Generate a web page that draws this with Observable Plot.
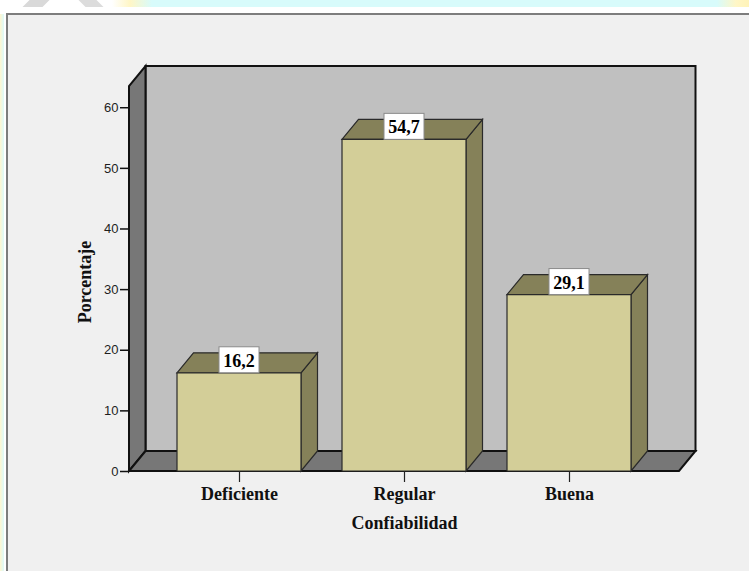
<!DOCTYPE html>
<html>
<head>
<meta charset="utf-8">
<script src="https://cdn.jsdelivr.net/npm/d3@7"></script>
<script src="https://cdn.jsdelivr.net/npm/@observablehq/plot@0.6"></script>
<style>
  html, body { margin: 0; padding: 0; background: #ffffff; }
  #page { position: relative; width: 749px; height: 571px; overflow: hidden; background: #ffffff; }
  #panel {
    position: absolute; left: 6px; top: 13px; width: 760px; height: 580px;
    background: #f0f0f0; border-left: 2px solid #7d7d7d; border-top: 2px solid #7d7d7d;
    box-sizing: border-box;
  }
  .wm { position: absolute; top: 0; height: 7px; }
  #chart { position: absolute; left: 0; top: 0; }
  #chart g[aria-label="y-axis tick label"] { font-size: 13px; font-family: 'Liberation Sans', Arial, sans-serif; }
  #chart g[aria-label="x-axis tick label"] { font-size: 18px; font-family: 'Liberation Serif', 'Times New Roman', serif; font-weight: bold; }
</style>
</head>
<body>
<div id="page">
  <!-- faint banner strip above the framed panel -->
  <div class="wm" style="left:26px;width:20px;background:#d9d9d9;transform:skewX(-45deg);"></div>
  <div class="wm" style="left:82px;width:18px;background:#dcdcdc;transform:skewX(45deg);"></div>
  <div class="wm" style="left:112px;width:40px;background:linear-gradient(90deg,#ffffff,#fff6c6 45%,#d8fbfb);"></div>
  <div class="wm" style="left:152px;width:565px;background:#d8fbfb;"></div>
  <div class="wm" style="left:717px;width:32px;background:linear-gradient(90deg,#d8fbfb,#fff6c6 60%,#fff3b8);"></div>
  <div style="position:absolute;left:0;top:14px;width:4px;height:557px;background:linear-gradient(90deg,#fff6d0,#dcfafa);"></div>
  <div id="panel"></div>
  <div id="chart"></div>
</div>
<script>
// Confiabilidad distribution (percentages)
const categories = ["Deficiente", "Regular", "Buena"];
const percentages = [16.2, 54.7, 29.1];
const yTicks = [0, 10, 20, 30, 40, 50, 60];
const yTop = 63.5;
const xTitle = "Confiabilidad";
const yTitle = "Porcentaje";

const data = categories.map((category, i) => ({category, percent: percentages[i]}));
const formatValue = (v) => v.toFixed(1).replace(".", ",");

// pseudo-3D depth offset (pixels)
const DX = 16.5, DY = -20;
const SERIF = "'Liberation Serif', 'Times New Roman', serif";
const SANS = "'Liberation Sans', Arial, sans-serif";

function polygon(g, pts, fill, stroke, width) {
  return g.append("polygon")
    .attr("points", pts.map((p) => p.join(",")).join(" "))
    .attr("fill", fill)
    .attr("stroke", stroke)
    .attr("stroke-width", width)
    .attr("stroke-linejoin", "miter");
}

// back wall, left wall and floor of the box
function drawWalls(index, scales, values, dims) {
  const g = d3.create("svg:g");
  const xl = dims.marginLeft, xr = dims.width - dims.marginRight;
  const yb = scales.y(0), yt = scales.y(yTop);
  polygon(g, [[xl + DX, yt + DY], [xr + DX, yt + DY], [xr + DX, yb + DY], [xl + DX, yb + DY]], "#c0c0c0", "#111", 2);
  polygon(g, [[xl, yb], [xl, yt], [xl + DX, yt + DY], [xl + DX, yb + DY]], "#777777", "#111", 2);
  polygon(g, [[xl, yb], [xr, yb], [xr + DX, yb + DY], [xl + DX, yb + DY]], "#777777", "#111", 2);
  return g.node();
}

// each bar as a box: front face, top face and right side
function drawPrisms(index, scales) {
  const g = d3.create("svg:g");
  const bw = scales.x.bandwidth();
  for (const i of index) {
    const x0 = scales.x(data[i].category), x1 = x0 + bw;
    const y0 = scales.y(0), y1 = scales.y(data[i].percent);
    polygon(g, [[x1, y0], [x1, y1], [x1 + DX, y1 + DY], [x1 + DX, y0 + DY]], "#858159", "#2a2a2a", 1.2);
    polygon(g, [[x0, y1], [x1, y1], [x1 + DX, y1 + DY], [x0 + DX, y1 + DY]], "#858159", "#2a2a2a", 1.2);
    polygon(g, [[x0, y0], [x1, y0], [x1, y1], [x0, y1]], "#d3ce98", "#2a2a2a", 1.2);
  }
  return g.node();
}

// value tags sitting on the front top edge of each bar
function drawTags(index, scales) {
  const g = d3.create("svg:g");
  const bw = scales.x.bandwidth();
  for (const i of index) {
    const cx = scales.x(data[i].category) + bw / 2;
    const yv = scales.y(data[i].percent);
    g.append("rect")
      .attr("x", cx - 20).attr("y", yv - 26)
      .attr("width", 40).attr("height", 26)
      .attr("fill", "#ffffff").attr("stroke", "#8a8a8a").attr("stroke-width", 1);
    g.append("text")
      .attr("x", cx).attr("y", yv - 6)
      .attr("text-anchor", "middle")
      .attr("font-family", SERIF).attr("font-weight", "bold").attr("font-size", 18)
      .attr("fill", "#000")
      .text(formatValue(data[i].percent));
  }
  return g.node();
}

const chart = Plot.plot({
  width: 749,
  height: 571,
  marginLeft: 129,
  marginRight: 70,
  marginTop: 86,
  marginBottom: 100,
  style: {background: "transparent", overflow: "visible", fontFamily: SANS, fontSize: "13px"},
  x: {domain: categories, paddingInner: 0.25, paddingOuter: 0.29},
  y: {domain: [0, yTop]},
  marks: [
    Plot.frame({stroke: "none", render: drawWalls}),
    Plot.axisY(yTicks, {
      tickSize: 9, tickPadding: 2, label: null,
      fontSize: 13, fontFamily: SANS, fill: "#1e1e1e", stroke: "#111", strokeWidth: 1.5
    }),
    Plot.barY(data, {x: "category", y: "percent", render: drawPrisms}),
    Plot.text(data, {x: "category", y: "percent", text: (d) => formatValue(d.percent), render: drawTags}),
    Plot.axisX({
      tickSize: 11, tickPadding: 5, label: null,
      fontSize: 18, fontFamily: SERIF, fontWeight: "bold", fill: "#111", stroke: "#222", strokeWidth: 1.2
    }),
    Plot.text([xTitle], {
      text: (d) => d, frameAnchor: "bottom", lineAnchor: "middle", textAnchor: "middle", dy: 52,
      fontSize: 18, fontFamily: SERIF, fontWeight: "bold", fill: "#111"
    }),
    Plot.text([yTitle], {
      text: (d) => d, frameAnchor: "left", lineAnchor: "middle", textAnchor: "middle", dx: -44, dy: 3, rotate: -90,
      fontSize: 18, fontFamily: SERIF, fontWeight: "bold", fill: "#111"
    })
  ]
});

document.getElementById("chart").appendChild(chart);
</script>
</body>
</html>
